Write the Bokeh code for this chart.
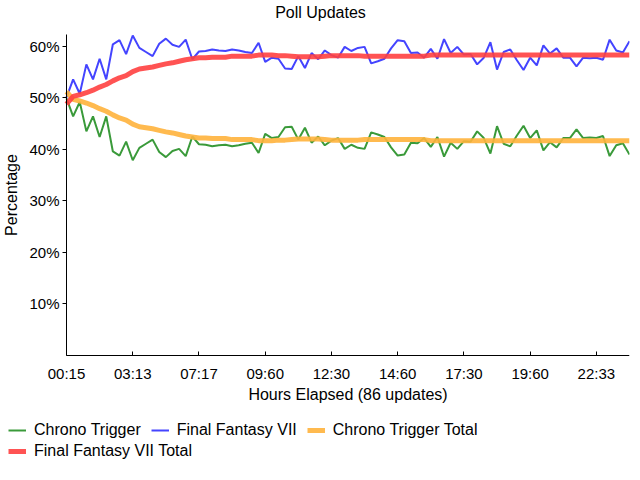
from bokeh.plotting import figure
from bokeh.models import (FixedTicker, Legend, LegendItem, ColumnDataSource, Range1d,
                          LinearAxis, Label)
from bokeh.embed import file_html
from bokeh.resources import INLINE

tick_labels = ["00:15", "03:13", "07:17", "09:60", "12:30", "14:60", "17:30", "19:60", "22:33"]
tick_positions = [0, 10, 20, 30, 40, 50, 60, 70, 80]
y_ticks = [10, 20, 30, 40, 50, 60]

ff7 = [50.1, 53.6, 50.8, 56.5, 53.6, 57.6, 53.6, 60.4, 61.2, 58.5,
       62.1, 59.7, 58.9, 58.1, 60.5, 61.5, 60.3, 59.9, 61.3, 57.5,
       59.0, 59.1, 59.4, 59.2, 59.1, 59.4, 59.2, 58.9, 58.7, 60.7,
       57.0, 57.8, 57.6, 55.7, 55.6, 58.1, 55.8, 58.7, 57.5, 59.2,
       58.3, 57.8, 59.9, 59.1, 59.7, 59.9, 56.7, 57.1, 57.6, 59.6,
       61.2, 61.0, 58.7, 58.8, 57.8, 59.5, 57.6, 61.4, 58.7, 59.9,
       58.4, 58.5, 56.5, 57.8, 60.8, 55.5, 58.9, 59.4, 57.3, 55.4,
       57.8, 56.3, 60.2, 58.6, 59.6, 57.8, 57.8, 56.1, 57.8, 57.7,
       57.8, 57.4, 61.3, 59.2, 58.8, 61.0]

chrono = [49.9, 46.4, 49.2, 43.5, 46.4, 42.4, 46.4, 39.6, 38.8, 41.5,
          37.9, 40.3, 41.1, 41.9, 39.5, 38.5, 39.7, 40.1, 38.7, 42.5,
          41.0, 40.9, 40.6, 40.8, 40.9, 40.6, 40.8, 41.1, 41.3, 39.3,
          43.0, 42.2, 42.4, 44.3, 44.4, 41.9, 44.2, 41.3, 42.5, 40.8,
          41.7, 42.2, 40.1, 40.9, 40.3, 40.1, 43.3, 42.9, 42.4, 40.4,
          38.8, 39.0, 41.3, 41.2, 42.2, 40.5, 42.4, 38.6, 41.3, 40.1,
          41.6, 41.5, 43.5, 42.2, 39.2, 44.5, 41.1, 40.6, 42.7, 44.6,
          42.2, 43.7, 39.8, 41.4, 40.4, 42.2, 42.2, 43.9, 42.2, 42.3,
          42.2, 42.6, 38.7, 40.8, 41.2, 39.0]

ff7_total = [48.8, 50.3, 50.6, 51.0, 51.5, 52.1, 52.6, 53.3, 53.9, 54.3,
             55.1, 55.6, 55.8, 56.0, 56.3, 56.6, 56.8, 57.1, 57.4, 57.6,
             57.8, 57.8, 57.9, 57.9, 57.9, 58.1, 58.1, 58.1, 58.1, 58.3,
             58.3, 58.3, 58.2, 58.2, 58.1, 58.0, 58.0, 58.0, 58.0, 58.1,
             58.2, 58.2, 58.2, 58.2, 58.2, 58.1, 58.1, 58.1, 58.1, 58.1,
             58.1, 58.1, 58.1, 58.1, 58.1, 58.3, 58.3, 58.3, 58.3, 58.3,
             58.3, 58.3, 58.3, 58.3, 58.3, 58.3, 58.3, 58.3, 58.3, 58.3,
             58.3, 58.3, 58.3, 58.3, 58.3, 58.3, 58.3, 58.3, 58.3, 58.3,
             58.3, 58.3, 58.3, 58.3, 58.3, 58.3]

chrono_total = [51.2, 49.7, 49.4, 49.0, 48.5, 47.9, 47.4, 46.7, 46.1, 45.7,
                44.9, 44.4, 44.2, 44.0, 43.7, 43.4, 43.2, 42.9, 42.6, 42.4,
                42.2, 42.2, 42.1, 42.1, 42.1, 41.9, 41.9, 41.9, 41.9, 41.7,
                41.7, 41.7, 41.8, 41.8, 41.9, 42.0, 42.0, 42.0, 42.0, 41.9,
                41.8, 41.8, 41.8, 41.8, 41.8, 41.9, 41.9, 41.9, 41.9, 41.9,
                41.9, 41.9, 41.9, 41.9, 41.9, 41.7, 41.7, 41.7, 41.7, 41.7,
                41.7, 41.7, 41.7, 41.7, 41.7, 41.7, 41.7, 41.7, 41.7, 41.7,
                41.7, 41.7, 41.7, 41.7, 41.7, 41.7, 41.7, 41.7, 41.7, 41.7,
                41.7, 41.7, 41.7, 41.7, 41.7, 41.7]

updates = list(range(len(ff7)))
X_MAX = 85
Y_MAX = 62.3

FONT = "Liberation Sans"
FS_TICK = "15px"
FS = "16px"

# frame covers the whole canvas; plotting area: x 66..629, y 34..355 px
PX_X = 563 / X_MAX
PX_Y = 321 / Y_MAX
p = figure(width=640, height=480, output_backend="svg", toolbar_location=None,
           x_axis_location=None, y_axis_location=None,
           x_range=Range1d(-66 / PX_X, X_MAX), y_range=Range1d(-125 / PX_Y, Y_MAX + 34 / PX_Y),
           min_border_left=0, min_border_right=11, min_border_top=0, min_border_bottom=0)
p.outline_line_color = None
p.xgrid.grid_line_color = None
p.ygrid.grid_line_color = None

src = ColumnDataSource(dict(x=updates, ff7=ff7, ct=chrono, fft=ff7_total, ctt=chrono_total))

r_ct = p.line("x", "ct", source=src, line_color="#3a9a3a", line_width=2)
r_ff = p.line("x", "ff7", source=src, line_color="#4444ff", line_width=2)
r_ctt = p.line("x", "ctt", source=src, line_color="#ffb23c", line_width=5, line_alpha=0.9)
r_fft = p.line("x", "fft", source=src, line_color="#ff4040", line_width=5, line_alpha=0.9)

xaxis = LinearAxis(ticker=FixedTicker(ticks=tick_positions), fixed_location=0,
                   bounds=(0, X_MAX), axis_label="Hours Elapsed (86 updates)")
xaxis.major_label_overrides = {t: l for t, l in zip(tick_positions, tick_labels)}
yaxis = LinearAxis(ticker=FixedTicker(ticks=y_ticks), fixed_location=0,
                   bounds=(0, Y_MAX), axis_label="Percentage")
yaxis.major_label_overrides = {v: f"{v}%" for v in y_ticks}

for ax in (xaxis, yaxis):
    ax.major_label_text_font = FONT
    ax.major_label_text_font_size = FS_TICK
    ax.major_label_text_color = "black"
    ax.axis_label_text_font = FONT
    ax.axis_label_text_font_size = FS
    ax.axis_label_text_font_style = "normal"
    ax.axis_label_text_color = "black"
    ax.axis_line_color = "black"
    ax.major_tick_line_color = "black"
    ax.minor_tick_line_color = None

yaxis.major_tick_out = 4
yaxis.major_tick_in = 0
xaxis.major_tick_out = 0
xaxis.major_tick_in = 4
xaxis.major_label_standoff = 9
xaxis.axis_label_standoff = 1
yaxis.major_label_standoff = 3
yaxis.axis_label_standoff = 6
p.add_layout(xaxis, "below")
p.add_layout(yaxis, "left")

title = Label(x=320, y=480 - 12, x_units="screen", y_units="screen", text="Poll Updates",
              text_align="center", text_baseline="middle", text_font=FONT,
              text_font_size=FS, text_color="black")
p.add_layout(title)


def make_legend(items, loc):
    lg = Legend(items=items, location=loc, orientation="horizontal")
    lg.border_line_color = None
    lg.background_fill_alpha = 0
    lg.label_text_font = FONT
    lg.label_text_font_size = FS
    lg.label_text_color = "black"
    lg.glyph_width = 18
    lg.label_standoff = 8
    lg.spacing = 10
    lg.padding = 0
    lg.margin = 0
    lg.label_height = 20
    lg.glyph_height = 20
    return lg


legend1 = make_legend([
    LegendItem(label="Chrono Trigger", renderers=[r_ct]),
    LegendItem(label="Final Fantasy VII", renderers=[r_ff]),
    LegendItem(label="Chrono Trigger Total", renderers=[r_ctt]),
], (8, 40))
legend2 = make_legend([
    LegendItem(label="Final Fantasy VII Total", renderers=[r_fft]),
], (8, 19))
p.add_layout(legend1, "center")
p.add_layout(legend2, "center")

open("out.html", "w").write(file_html(p, INLINE))
